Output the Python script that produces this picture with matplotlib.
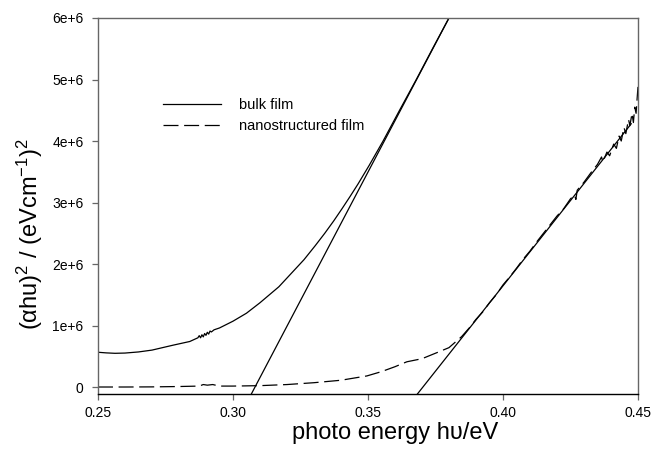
import matplotlib
matplotlib.use("Agg")
import matplotlib.pyplot as plt
import numpy as np

plt.rcParams['font.family'] = ['Liberation Sans', 'DejaVu Sans']
plt.rcParams['mathtext.fontset'] = 'custom'
plt.rcParams['mathtext.rm'] = 'Liberation Sans'
plt.rcParams['mathtext.default'] = 'regular'

# bulk film, (alpha h nu)^2 vs photon energy
bulk_x = [0.250, 0.253, 0.2563, 0.260, 0.265, 0.270, 0.2778, 0.284, 0.287,
          0.2875, 0.288, 0.2885, 0.289, 0.2895, 0.290, 0.2905, 0.291, 0.2915,
          0.292, 0.293, 0.295, 0.300, 0.305, 0.310, 0.317, 0.3263, 0.3305,
          0.3340, 0.3373, 0.3404, 0.3434, 0.3463, 0.3504, 0.3556, 0.3617,
          0.3679, 0.3739, 0.3800]
bulk_y = [0.565e6, 0.555e6, 0.548e6, 0.552e6, 0.570e6, 0.600e6, 0.680e6, 0.740e6,
          0.800e6, 0.835e6, 0.800e6, 0.850e6, 0.815e6, 0.870e6, 0.840e6, 0.890e6,
          0.860e6, 0.910e6, 0.895e6, 0.930e6, 0.960e6, 1.070e6, 1.200e6, 1.370e6,
          1.630e6, 2.070e6, 2.300e6, 2.500e6, 2.700e6, 2.900e6, 3.100e6, 3.300e6,
          3.600e6, 4.000e6, 4.500e6, 5.000e6, 5.500e6, 6.000e6]

# nanostructured film
nano_x = [0.250, 0.260, 0.270, 0.280, 0.2875, 0.289, 0.2905, 0.2925, 0.295,
          0.300, 0.310, 0.320, 0.330, 0.340, 0.3496, 0.355, 0.360, 0.3644,
          0.370, 0.3756, 0.380, 0.3847, 0.3875, 0.390, 0.3925, 0.395, 0.3975,
          0.400, 0.4025, 0.405, 0.4075, 0.410, 0.4125, 0.415, 0.4175, 0.420,
          0.4225, 0.425, 0.4265, 0.427, 0.4275, 0.430, 0.4325, 0.435, 0.4365,
          0.437, 0.4385, 0.4395, 0.441, 0.442, 0.443, 0.4438, 0.4448, 0.4455,
          0.4465, 0.447, 0.4478, 0.4483, 0.4488, 0.4493, 0.4497, 0.450]
nano_y = [0.000e6, 0.000e6, 0.002e6, 0.008e6, 0.015e6, 0.040e6, 0.030e6, 0.040e6,
          0.015e6, 0.015e6, 0.022e6, 0.040e6, 0.070e6, 0.110e6, 0.180e6, 0.250e6,
          0.330e6, 0.410e6, 0.460e6, 0.560e6, 0.640e6, 0.820e6, 0.960e6, 1.100e6,
          1.220e6, 1.370e6, 1.500e6, 1.660e6, 1.790e6, 1.930e6, 2.080e6, 2.210e6,
          2.360e6, 2.500e6, 2.640e6, 2.780e6, 2.900e6, 3.060e6, 3.120e6, 3.050e6,
          3.200e6, 3.330e6, 3.480e6, 3.620e6, 3.740e6, 3.660e6, 3.820e6, 3.760e6,
          3.950e6, 3.880e6, 4.080e6, 4.000e6, 4.220e6, 4.120e6, 4.350e6, 4.250e6,
          4.450e6, 4.300e6, 4.550e6, 4.450e6, 4.700e6, 4.880e6]

# linear extrapolations to the energy axis
fit_bulk_x = [0.3068, 0.3800]
fit_bulk_y = [-0.114e6, 6.0e6]
fit_nano_x = [0.3683, 0.4475]
fit_nano_y = [-0.114e6, 4.28e6]

xticks = [0.25, 0.30, 0.35, 0.40, 0.45]
xtick_labels = ['0.25', '0.30', '0.35', '0.40', '0.45']
yticks = [0, 1e6, 2e6, 3e6, 4e6, 5e6, 6e6]
ytick_labels = ['0', '1e+6', '2e+6', '3e+6', '4e+6', '5e+6', '6e+6']

fig = plt.figure(figsize=(6.54, 4.58), dpi=100)
ax = fig.add_axes([0.1498, 0.1397, 0.8257, 0.821])

lw = 0.9
ax.plot(nano_x, nano_y, color='black', lw=lw, linestyle=(0, (12, 4.5)),
        label='nanostructured film')
ax.plot(bulk_x, bulk_y, color='black', lw=lw, label='bulk film')
ax.plot(fit_bulk_x, fit_bulk_y, color='black', lw=lw)
ax.plot(fit_nano_x, fit_nano_y, color='black', lw=lw)

ax.set_xlim(0.25, 0.45)
ax.set_ylim(-0.114e6, 6.0e6)
ax.set_xticks(xticks)
ax.set_xticklabels(xtick_labels)
ax.set_yticks(yticks)
ax.set_yticklabels(ytick_labels)
ax.tick_params(direction='out', length=4.5, width=0.9, color='#666666',
               labelsize=10, pad=4)
ax.tick_params(axis='y', pad=6)

for side in ['left', 'top', 'right']:
    ax.spines[side].set_color('#666666')
    ax.spines[side].set_linewidth(1.0)
ax.spines['bottom'].set_color('black')
ax.spines['bottom'].set_linewidth(1.0)

fig.text(395 / 654, 1 - 433 / 458, 'photo energy h\u03c5/eV', fontsize=17,
         ha='center', va='center')
fig.text(30 / 654, 1 - 234 / 458, '(\u03b1hu)$^2$ / (eVcm$^{-1}$)$^2$',
         fontsize=17, rotation=90, ha='center', va='center')

handles, labels = ax.get_legend_handles_labels()
ax.legend(handles[::-1], labels[::-1], loc='center left',
          bbox_to_anchor=(163 / 654, 1 - 115.5 / 458),
          bbox_transform=fig.transFigure, frameon=False, fontsize=10.5,
          handlelength=4.0, handletextpad=1.2, labelspacing=0.45,
          borderpad=0, borderaxespad=0)

fig.savefig('out.png', dpi=100)
